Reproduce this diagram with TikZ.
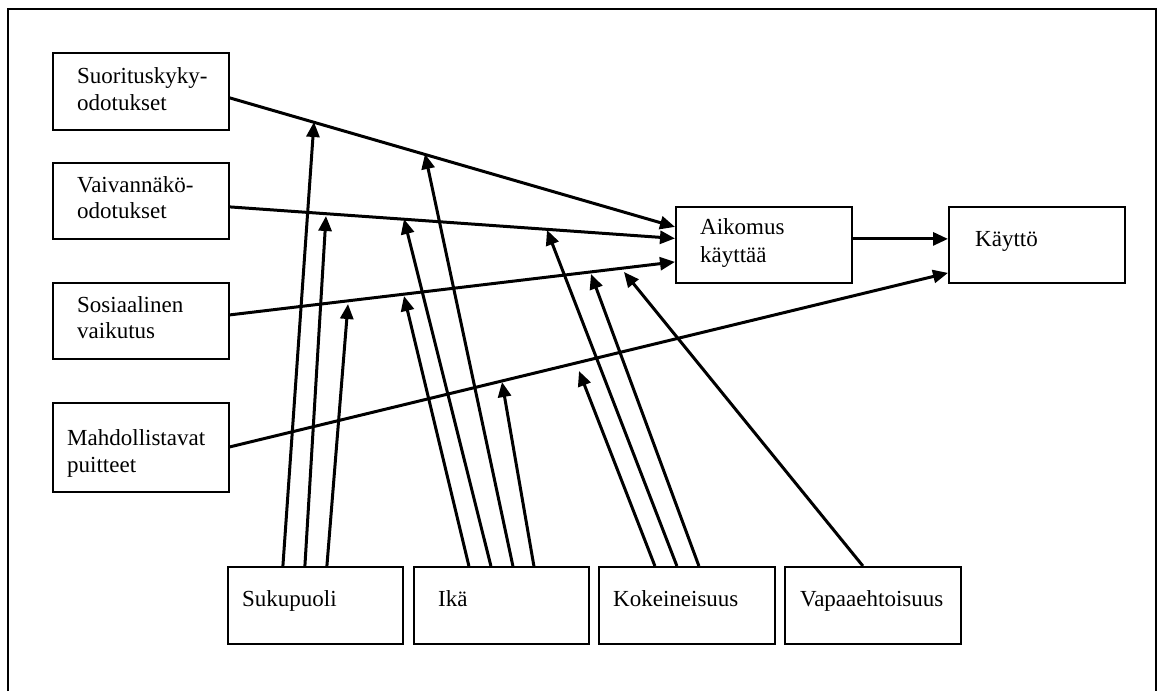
\documentclass[tikz,border=0pt]{standalone}
\usepackage{fontspec}
\setmainfont{Liberation Serif}
\usetikzlibrary{arrows.meta}
\begin{document}
\begin{tikzpicture}[x=1pt,y=-1pt,
  box/.style={draw, line width=1.8pt, inner sep=0pt, anchor=north west},
  lbl/.style={anchor=base west, inner sep=0pt, font=\fontsize{23}{27}\selectfont},
  conn/.style={line width=3pt, -{Triangle[length=15pt,width=13pt]}},
  framed/.style={line width=1.4pt}]
\useasboundingbox (0,0) rectangle (1157,691);
% frame
\draw[framed] (8,691) -- (8,9) -- (1156,9) -- (1156,691);
% boxes
\node[box, minimum width=176pt, minimum height=77pt] (suo) at (52,52) {};
\node[box, minimum width=176pt, minimum height=76pt] (vai) at (52,162) {};
\node[box, minimum width=176pt, minimum height=76pt] (sos) at (52,282) {};
\node[box, minimum width=176pt, minimum height=89pt] (mah) at (52,402) {};
\node[box, minimum width=176pt, minimum height=76pt] (aik) at (675,206) {};
\node[box, minimum width=176pt, minimum height=76pt] (kay) at (948,206) {};
\node[box, minimum width=175pt, minimum height=77pt] (suk) at (227,566) {};
\node[box, minimum width=175pt, minimum height=77pt] (ika) at (413,566) {};
\node[box, minimum width=176pt, minimum height=77pt] (kok) at (598,566) {};
\node[box, minimum width=176pt, minimum height=77pt] (vap) at (784,566) {};
% labels
\node[lbl] (t1a) at (77,83) {Suorituskyky-};
\node[lbl] (t1b) at (77,110) {odotukset};
\node[lbl] (t2a) at (77,192) {Vaivannäkö-};
\node[lbl] (t2b) at (77,218) {odotukset};
\node[lbl] (t3a) at (77,312) {Sosiaalinen};
\node[lbl] (t3b) at (77,338) {vaikutus};
\node[lbl] (t4a) at (67,445) {Mahdollistavat};
\node[lbl] (t4b) at (67,472) {puitteet};
\node[lbl] (t5a) at (700,234) {Aikomus};
\node[lbl] (t5b) at (700,262) {käyttää};
\node[lbl] (t6) at (975,246) {Käyttö};
\node[lbl] (t7) at (242,606) {Sukupuoli};
\node[lbl] (t8) at (438,606) {Ikä};
\node[lbl] (t9) at (613,606) {Kokeineisuus};
\node[lbl] (t10) at (800,606) {Vapaaehtoisuus};
% moderator target points
\coordinate (s1) at (314,122);
\coordinate (i1) at (425,154);
\coordinate (s2) at (326,216);
\coordinate (i2) at (404,219);
\coordinate (k2) at (547,230);
\coordinate (s3) at (348,304);
\coordinate (i3) at (404,296);
\coordinate (k3) at (591,274);
\coordinate (v3) at (624,272);
\coordinate (i4) at (502,382);
\coordinate (k4) at (579,371);
% main connectors
\draw[conn] ([yshift=-6.5pt]suo.east) -- ([yshift=18pt]aik.west);
\draw[conn] ([yshift=-6pt]vai.east) -- ([yshift=6.5pt]aik.west);
\draw[conn] ([yshift=6pt]sos.east) -- ([yshift=-17pt]aik.west);
\draw[conn] ([yshift=0.5pt]mah.east) -- ([yshift=-28pt]kay.west);
\draw[conn] ([yshift=6pt]aik.east) -- ([yshift=6pt]kay.west);
% moderators
\draw[conn] ([xshift=-32.5pt]suk.north) -- (s1);
\draw[conn] ([xshift=-10.5pt]suk.north) -- (s2);
\draw[conn] ([xshift=11.5pt]suk.north) -- (s3);
\draw[conn] ([xshift=-32.5pt]ika.north) -- (i3);
\draw[conn] ([xshift=-10.5pt]ika.north) -- (i2);
\draw[conn] ([xshift=11.5pt]ika.north) -- (i1);
\draw[conn] ([xshift=32.5pt]ika.north) -- (i4);
\draw[conn] ([xshift=-32pt]kok.north) -- (k4);
\draw[conn] ([xshift=-10pt]kok.north) -- (k2);
\draw[conn] ([xshift=12pt]kok.north) -- (k3);
\draw[conn] ([xshift=-10pt]vap.north) -- (v3);
\end{tikzpicture}
\end{document}
